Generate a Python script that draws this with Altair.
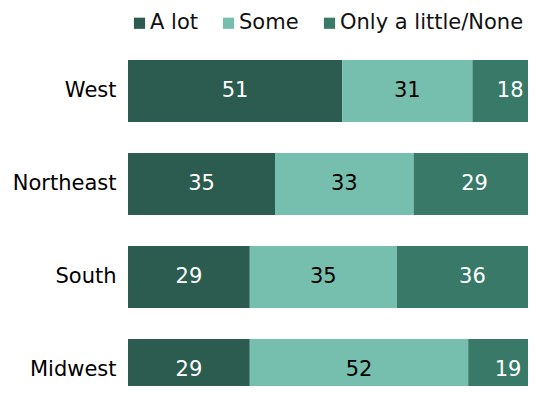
import altair as alt
import pandas as pd

regions = ["West", "Northeast", "South", "Midwest"]
levels = ["A lot", "Some", "Only a little/None"]
a_lot = [51, 35, 29, 29]
some = [31, 33, 35, 52]
little = [18, 29, 36, 19]
colors = ["#2c5b4f", "#76bfae", "#387a67"]
text_colors = ["white", "black", "white"]

rows = []
for i, r in enumerate(regions):
    for j, (lvl, vals) in enumerate(zip(levels, [a_lot, some, little])):
        rows.append({"region": r, "level": lvl, "value": vals[i], "ord": j,
                     "tcol": text_colors[j]})
df = pd.DataFrame(rows)

FONT = "DejaVu Sans"
FS = 21
PX_PER_UNIT = 4.2
PLOT_W = 400
PLOT_H = 341.5
BAND_RANGE = 372

base = alt.Chart(df).transform_stack(
    stack="value", groupby=["region"], as_=["x0", "x1"],
    sort=[alt.SortField("ord", order="ascending")]
).transform_calculate(mid="(datum.x0 + datum.x1) / 2")

xscale = alt.Scale(domain=[0, PLOT_W / PX_PER_UNIT], nice=False, zero=True, clamp=True)
yscale = alt.Scale(paddingInner=0.333, paddingOuter=0.1667, range=[0, BAND_RANGE])

yenc = alt.Y("region:N", sort=regions, title=None, scale=yscale,
             axis=alt.Axis(ticks=False, domain=False, labelFontSize=FS,
                           labelFont=FONT, labelColor="black", labelPadding=12))

bars = base.mark_bar(clip=True).encode(
    x=alt.X("x0:Q", scale=xscale, axis=None),
    x2="x1:Q",
    y=yenc,
    color=alt.Color("level:N", sort=levels,
                    scale=alt.Scale(domain=levels, range=colors),
                    legend=alt.Legend(title=None, orient="none", direction="horizontal",
                                      legendX=1, legendY=-32, padding=0,
                                      symbolType="square",
                                      symbolSize=125, symbolStrokeWidth=0,
                                      labelFontSize=FS, labelFont=FONT,
                                      labelColor="#111", labelOffset=0,
                                      labelLimit=0, columnPadding=20)),
)

labels = base.mark_text(fontSize=FS, font=FONT).encode(
    x=alt.X("mid:Q", scale=xscale),
    y=alt.Y("region:N", sort=regions, scale=yscale),
    text=alt.Text("value:Q"),
    color=alt.Color("tcol:N", scale=None),
)

chart = alt.layer(bars, labels).properties(
    width=PLOT_W, height=PLOT_H, background="white",
    autosize=alt.AutoSizeParams(type="none"),
    padding={"left": 120, "top": 36.5, "right": 0, "bottom": 0}
).configure_view(strokeWidth=0)

chart.save("out.html", embed_options={"renderer": "svg", "actions": False})
